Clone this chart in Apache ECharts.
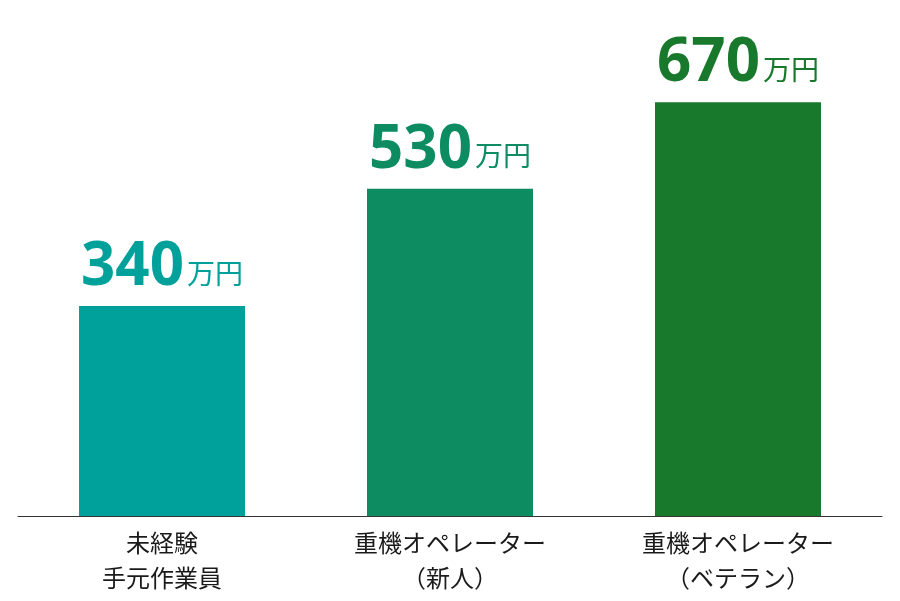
<!DOCTYPE html>
<html><head><meta charset="utf-8">
<script src="https://cdn.jsdelivr.net/npm/echarts@6/dist/echarts.min.js"></script>
<style>html,body{margin:0;padding:0;background:#fff}#c{width:900px;height:601px}</style>
</head><body><div id="c"></div>
<script>
const categories = ['未経験\n手元作業員', '重機オペレーター\n（新人）', '重機オペレーター\n（ベテラン）'];
const values = [340, 530, 670];
const unit = '万円';
const colors = ['#00A19A', '#0D8C62', '#18782B'];

const chart = echarts.init(document.getElementById('c'));
chart.setOption({
  animation: false,
  grid: { left: 18, right: 18, top: 22, bottom: 85 },
  xAxis: {
    type: 'category', data: categories,
    axisTick: { show: false },
    axisLine: { lineStyle: { color: '#333', width: 1 } },
    axisLabel: { color: '#1a1a1a', fontSize: 24, lineHeight: 35, margin: 9, fontFamily: '"Noto Sans CJK JP", sans-serif' }
  },
  yAxis: { type: 'value', min: 0, max: 800, show: false, splitLine: { show: false } },
  series: [{
    type: 'bar', barWidth: 166,
    data: values.map((v, i) => ({
      value: v,
      itemStyle: { color: colors[i] },
      label: {
        show: true, position: 'top', distance: 8,
        formatter: '{a|{c}}{b|' + unit + '}',
        rich: {
          a: { fontSize: 60, fontWeight: 'bold', color: colors[i], fontFamily: '"Open Sans", sans-serif', verticalAlign: 'bottom', lineHeight: 60 },
          b: { fontSize: 28, color: colors[i], fontFamily: '"Noto Sans CJK JP", sans-serif', verticalAlign: 'bottom', lineHeight: 60, padding: [0, 0, 11, 3] }
        }
      }
    }))
  }]
});
</script></body></html>
